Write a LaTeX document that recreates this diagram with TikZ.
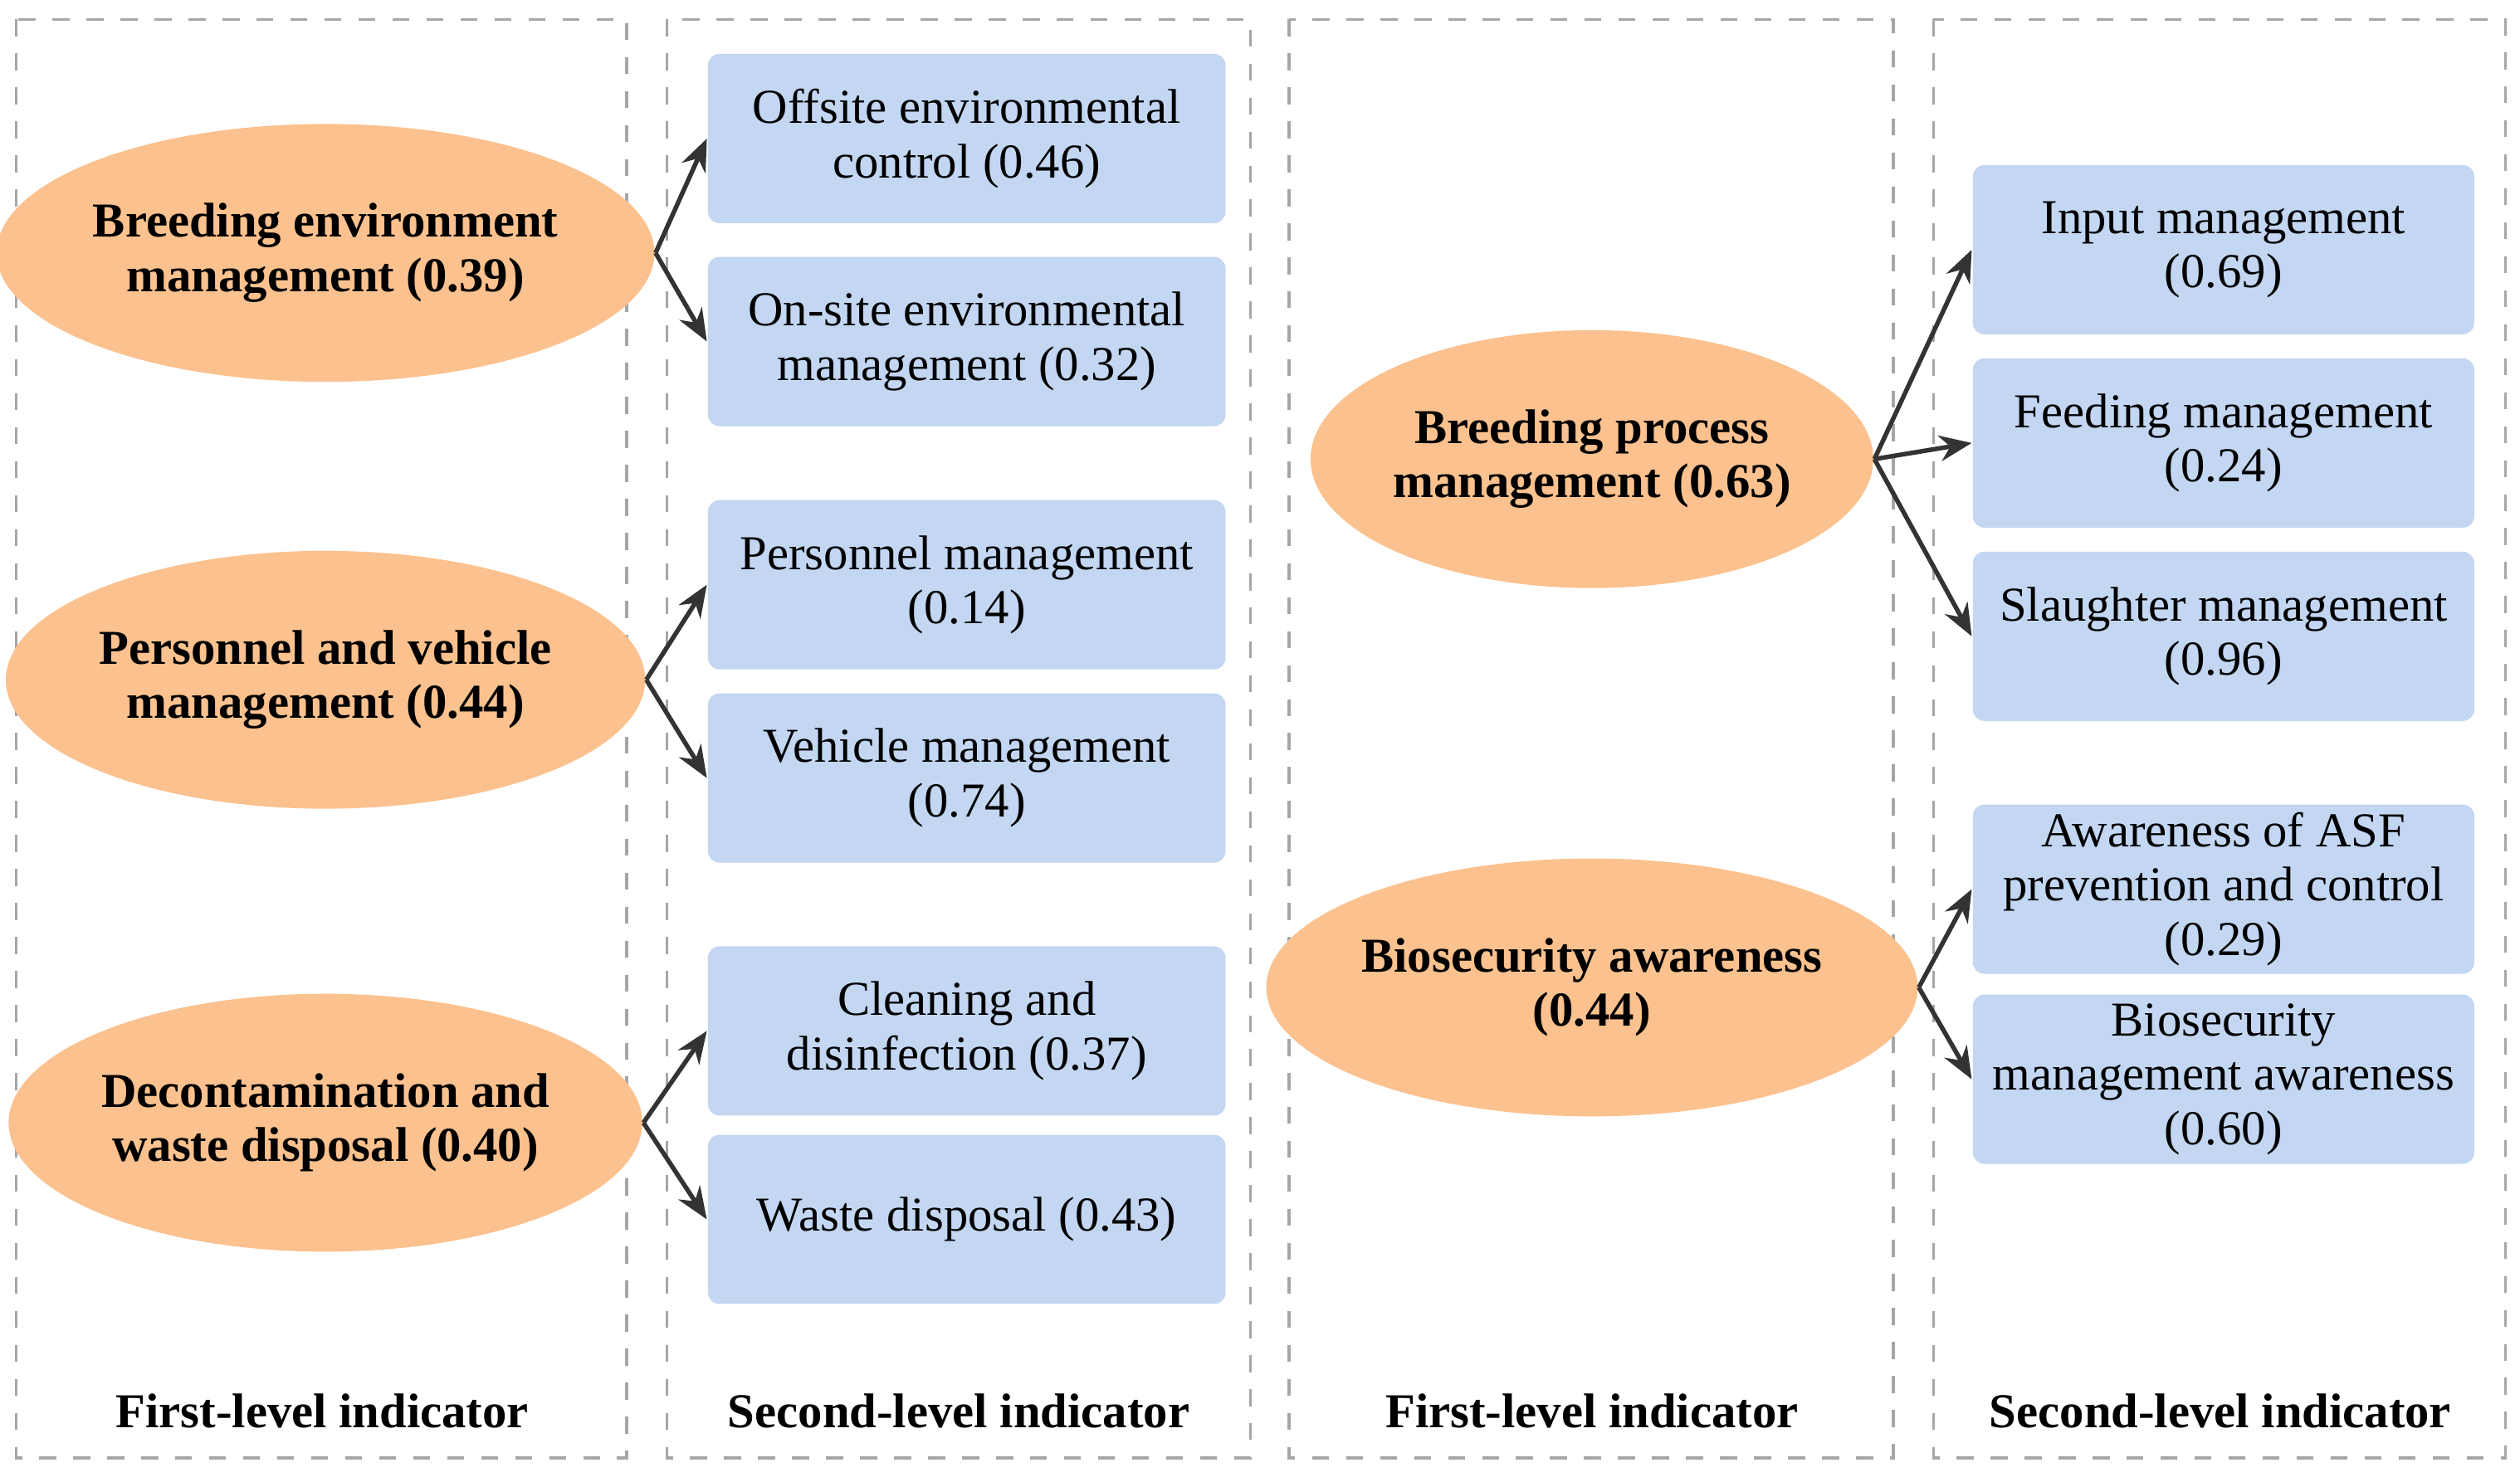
\documentclass[tikz,border=0pt]{standalone}
\usepackage{fontspec}
\setmainfont{Liberation Serif}
\usetikzlibrary{shapes.geometric}
\usetikzlibrary{arrows.meta}
\definecolor{ellfill}{HTML}{FBC18E}
\definecolor{boxfill}{HTML}{C3D6F2}
\tikzset{
  first/.style={shape=ellipse,fill=ellfill,minimum width=3.44cm,minimum height=1.6cm,inner sep=0pt,align=center,font=\fontsize{8.6}{9.6}\selectfont\bfseries},
  second/.style={shape=rectangle,rounded corners=2pt,fill=boxfill,minimum height=1.05cm,inner sep=0pt,align=center,font=\fontsize{8.6}{9.6}\selectfont},
  panel/.style={draw=gray!70,dashed,line width=0.5pt},
  caption/.style={font=\fontsize{8.6}{9.6}\selectfont\bfseries},
  link/.style={-{Stealth[length=2mm, width=1.6mm]},line width=0.8pt,draw=black!80}
}
\begin{document}
\begin{tikzpicture}[x=0.01cm,y=0.01cm]
    \useasboundingbox (0,0) rectangle (1564,-920);
    \draw[panel] (10,-12) rectangle (389,-905);
    \draw[panel] (414,-12) rectangle (776,-905);
    \draw[panel] (800,-12) rectangle (1175,-905);
    \draw[panel] (1200,-12) rectangle (1555,-905);

    \node[caption] (cap1) at (200,-876) {First-level indicator};
    \node[caption] (cap2) at (595,-876) {Second-level indicator};
    \node[caption] (cap3) at (988,-876) {First-level indicator};
    \node[caption] (cap4) at (1378,-876) {Second-level indicator};

    \node[first] (env) at (202,-157) {Breeding environment\\management (0.39)};
    \node[first] (pv) at (202,-422) {Personnel and vehicle\\management (0.44)};
    \node[first] (dec) at (202,-697) {Decontamination and\\waste disposal (0.40)};
    \node[first] (proc) at (988,-285) {Breeding process\\management (0.63)};
    \node[first] (bio) at (988,-613) {Biosecurity awareness\\(0.44)};

    \node[second,minimum width=3.21cm] (off) at (600,-86) {Offsite environmental\\control (0.46)};
    \node[second,minimum width=3.21cm] (ons) at (600,-212) {On-site environmental\\management (0.32)};
    \node[second,minimum width=3.21cm] (pers) at (600,-363) {Personnel management\\(0.14)};
    \node[second,minimum width=3.21cm] (veh) at (600,-483) {Vehicle management\\(0.74)};
    \node[second,minimum width=3.21cm] (clean) at (600,-640) {Cleaning and\\disinfection (0.37)};
    \node[second,minimum width=3.21cm] (waste) at (600,-757) {Waste disposal (0.43)};
    \node[second,minimum width=3.11cm] (input) at (1380,-155) {Input management\\(0.69)};
    \node[second,minimum width=3.11cm] (feed) at (1380,-275) {Feeding management\\(0.24)};
    \node[second,minimum width=3.11cm] (slau) at (1380,-395) {Slaughter management\\(0.96)};
    \node[second,minimum width=3.11cm] (asf) at (1380,-552) {Awareness of ASF\\prevention and control\\(0.29)};
    \node[second,minimum width=3.11cm] (bman) at (1380,-670) {Biosecurity\\management awareness\\(0.60)};

    \draw[link] (env.east) -- (off.west);
    \draw[link] (env.east) -- (ons.west);
    \draw[link] (pv.east) -- (pers.west);
    \draw[link] (pv.east) -- (veh.west);
    \draw[link] (dec.east) -- (clean.west);
    \draw[link] (dec.east) -- (waste.west);
    \draw[link] (proc.east) -- (input.west);
    \draw[link] (proc.east) -- (feed.west);
    \draw[link] (proc.east) -- (slau.west);
    \draw[link] (bio.east) -- (asf.west);
    \draw[link] (bio.east) -- (bman.west);
\end{tikzpicture}
\end{document}
